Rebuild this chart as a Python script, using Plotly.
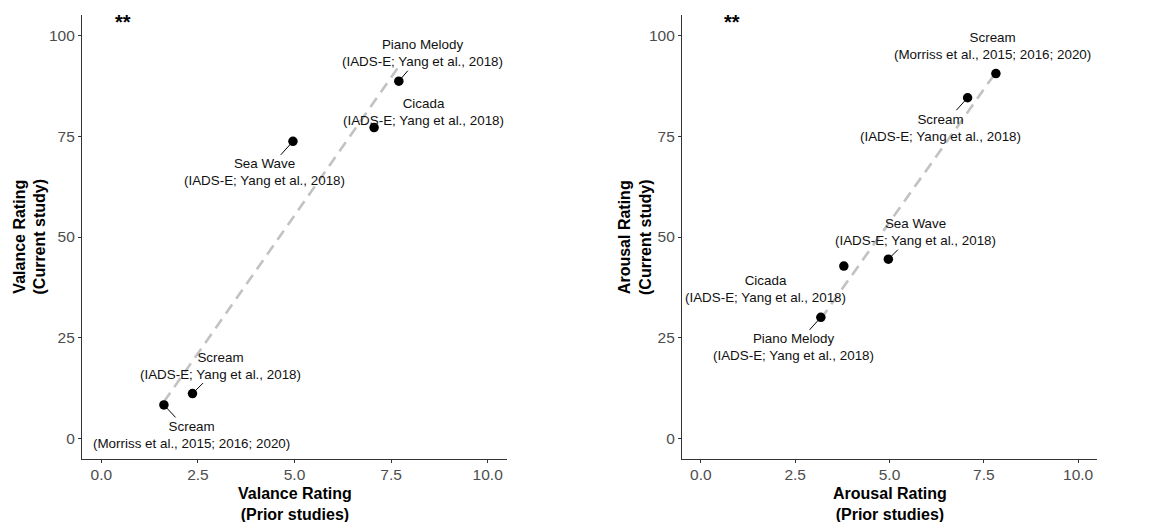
import numpy as np
import plotly.graph_objects as go

# Valence ratings: prior studies (x) vs current study (y)
val_names = ["Piano Melody", "Cicada", "Sea Wave", "Scream", "Scream"]
val_sources = ["(IADS-E; Yang et al., 2018)", "(IADS-E; Yang et al., 2018)",
               "(IADS-E; Yang et al., 2018)", "(IADS-E; Yang et al., 2018)",
               "(Morriss et al., 2015; 2016; 2020)"]
val_prior = [7.70, 7.06, 4.96, 2.36, 1.62]
val_current = [88.6, 77.1, 73.7, 11.2, 8.4]

# Arousal ratings: prior studies (x) vs current study (y)
aro_names = ["Scream", "Scream", "Sea Wave", "Cicada", "Piano Melody"]
aro_sources = ["(Morriss et al., 2015; 2016; 2020)", "(IADS-E; Yang et al., 2018)",
               "(IADS-E; Yang et al., 2018)", "(IADS-E; Yang et al., 2018)",
               "(IADS-E; Yang et al., 2018)"]
aro_prior = [7.82, 7.07, 4.97, 3.79, 3.18]
aro_current = [90.5, 84.5, 44.5, 42.8, 30.1]

x_ticks = [0, 2.5, 5, 7.5, 10]
x_ticktext = ["0.0", "2.5", "5.0", "7.5", "10.0"]
y_ticks = [0, 25, 50, 75, 100]

# label placement (pixel offsets of label centre from its point, segment on/off)
val_offsets = [(24, -28, True), (49, -16, False), (-28, 31, True), (28, -28, True), (28, 30, True)]
aro_offsets = [(-3, -28, False), (-27, 30, True), (27, -27, True), (-78, 23, False), (-27, 30, True)]

FONT = "Arial, 'Liberation Sans', sans-serif"
W, H = 1150, 522

fig = go.Figure()

panels = [
    (val_prior, val_current, val_names, val_sources, val_offsets, "x", "y",
     "Valance Rating<br>(Prior studies)", "Valance Rating<br>(Current study)", 0.55),
    (aro_prior, aro_current, aro_names, aro_sources, aro_offsets, "x2", "y2",
     "Arousal Rating<br>(Prior studies)", "Arousal Rating<br>(Current study)", 0.83),
]

annotations = []
for xs, ys, names, srcs, offs, xr, yr, xt, yt, star_x in panels:
    xs_a = np.array(xs)
    ys_a = np.array(ys)
    slope, intercept = np.polyfit(xs_a, ys_a, 1)
    fit_x = np.array([xs_a.min(), xs_a.max()])
    fig.add_trace(go.Scatter(
        x=fit_x, y=slope * fit_x + intercept, mode="lines",
        line=dict(color="#C2C2C2", width=2.6, dash="11px,7px"),
        xaxis=xr, yaxis=yr, showlegend=False, hoverinfo="skip"))
    fig.add_trace(go.Scatter(
        x=xs, y=ys, mode="markers",
        marker=dict(color="black", size=9.5),
        xaxis=xr, yaxis=yr, showlegend=False))
    for px, py, nm, src, (ax, ay, seg) in zip(xs, ys, names, srcs, offs):
        annotations.append(dict(
            x=px, y=py, xref=xr, yref=yr, ax=ax, ay=ay,
            text=f"{nm}<br>{src}", showarrow=True, arrowhead=0,
            arrowwidth=1, standoff=4,
            arrowcolor="black" if seg else "rgba(0,0,0,0)",
            font=dict(family=FONT, size=13.4, color="#111111")))
    annotations.append(dict(
        x=star_x, y=103.3, xref=xr, yref=yr, text="<b>**</b>", showarrow=False,
        xanchor="center", yanchor="middle",
        font=dict(family=FONT, size=20, color="black")))

# axis titles
title_font = dict(family=FONT, size=16, color="black")
annotations += [
    dict(x=295 / W, y=1 - 504 / H, xref="paper", yref="paper", text=f"<b>{panels[0][7]}</b>",
         showarrow=False, xanchor="center", yanchor="middle", font=title_font),
    dict(x=889.5 / W, y=1 - 504 / H, xref="paper", yref="paper", text=f"<b>{panels[1][7]}</b>",
         showarrow=False, xanchor="center", yanchor="middle", font=title_font),
    dict(x=29.5 / W, y=1 - 237 / H, xref="paper", yref="paper", text=f"<b>{panels[0][8]}</b>",
         showarrow=False, textangle=-90, xanchor="center", yanchor="middle", font=title_font),
    dict(x=635 / W, y=1 - 237 / H, xref="paper", yref="paper", text=f"<b>{panels[1][8]}</b>",
         showarrow=False, textangle=-90, xanchor="center", yanchor="middle", font=title_font),
]

axis_common = dict(showgrid=False, zeroline=False, showline=True, linecolor="#333333",
                   linewidth=1.1, ticks="outside", ticklen=3, tickcolor="#333333",
                   tickfont=dict(family=FONT, size=15.5, color="#4D4D4D"))
ydom = [1 - 459 / H, 1 - 15 / H]

fig.update_layout(
    width=W, height=H, margin=dict(l=0, r=0, t=0, b=0),
    paper_bgcolor="white", plot_bgcolor="white",
    xaxis=dict(domain=[82 / W, 507 / W], range=[-0.5, 10.5], tickvals=x_ticks,
               ticktext=x_ticktext, anchor="y", ticklabelstandoff=-2, **axis_common),
    yaxis=dict(domain=ydom, range=[-5, 105], tickvals=y_ticks, anchor="x", **axis_common),
    xaxis2=dict(domain=[682 / W, 1097 / W], range=[-0.5, 10.5], tickvals=x_ticks,
                ticktext=x_ticktext, anchor="y2", ticklabelstandoff=-2, **axis_common),
    yaxis2=dict(domain=ydom, range=[-5, 105], tickvals=y_ticks, anchor="x2", **axis_common),
    annotations=annotations,
)

fig.write_html("out.html")
